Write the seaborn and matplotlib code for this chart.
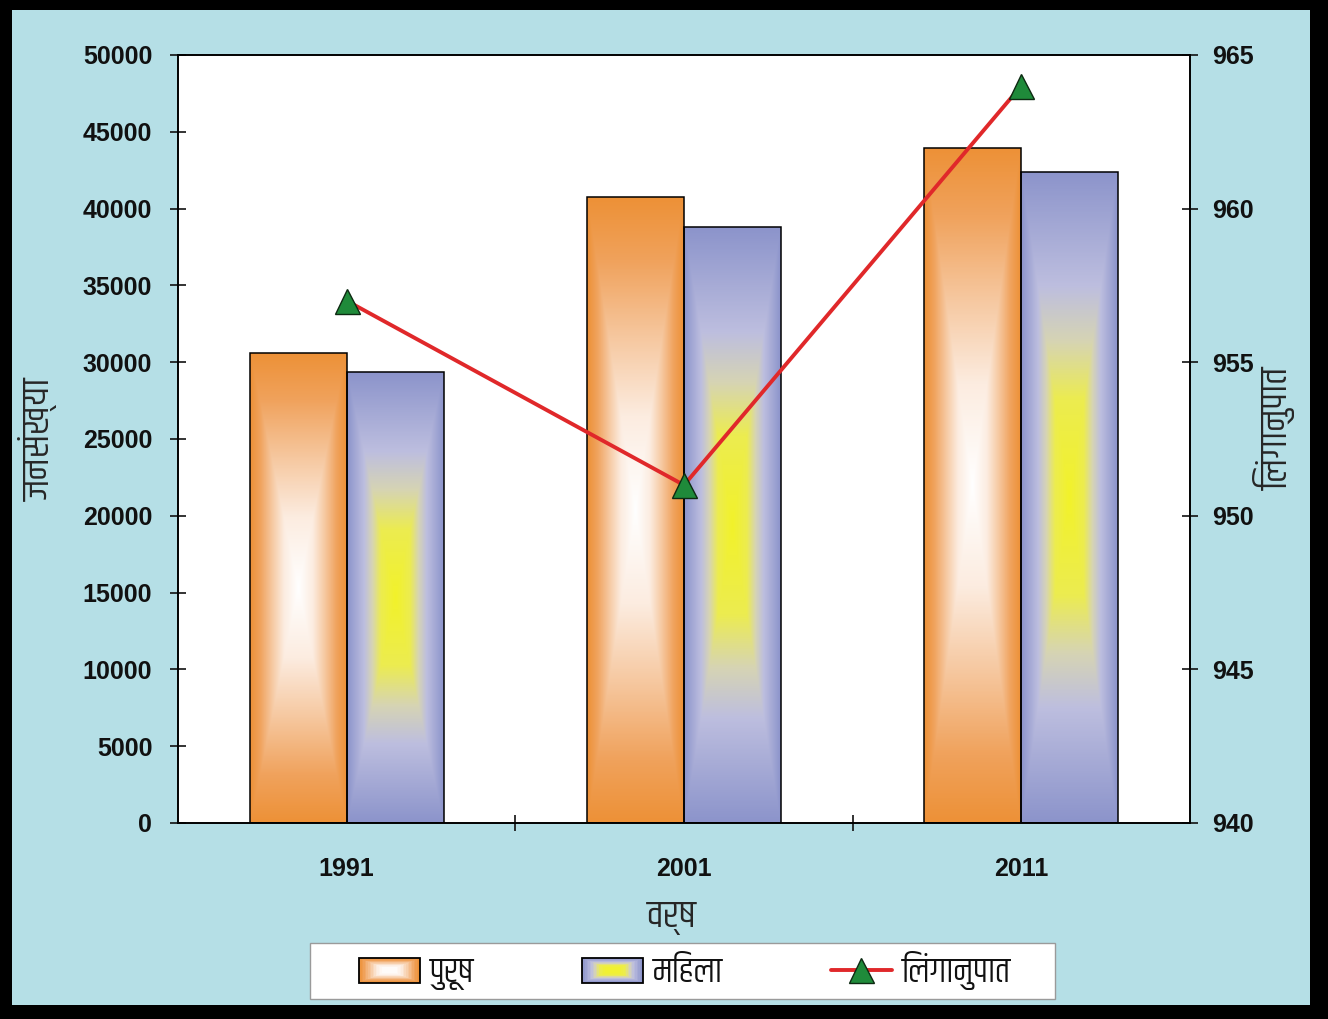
import numpy as np
import pandas as pd
import seaborn as sns
import matplotlib
matplotlib.use("Agg")
import matplotlib.pyplot as plt
from matplotlib.patches import Rectangle
from matplotlib.legend_handler import HandlerBase
from matplotlib.colors import LinearSegmentedColormap

# ---- data -------------------------------------------------------------
years = ["1991", "2001", "2011"]
male_population = [30600, 40750, 43950]
female_population = [29350, 38800, 42400]
sex_ratio = [957, 951, 964]

series_names = ["पुरूष", "महिला"]
ratio_name = "लिंगानुपात"
population_label = "जनसंख्या"
year_label = "वर्ष"

population_ticks = list(range(0, 50001, 5000))
ratio_ticks = list(range(940, 966, 5))

# ---- styling ------------------------------------------------------------
W, H = 1328, 1019
ORANGE = "#ed9137"
LAVENDER = "#8c94cb"
RED = "#e0282a"
GREEN = "#1f8a3a"
BACKDROP = "#b5dfe6"
DEVA = "Khand"

sns.set_style("ticks")
plt.rcParams["font.family"] = ["Liberation Sans", DEVA]
plt.rcParams["font.weight"] = "bold"
plt.rcParams["text.color"] = "#111111"
plt.rcParams["xtick.color"] = "#111111"
plt.rcParams["ytick.color"] = "#111111"


def glyph_order(text):
    """matplotlib lays Devanagari out without shaping, so the short-i
    vowel sign is moved in front of its consonant to display correctly."""
    chars = list(text)
    for i in range(1, len(chars)):
        if chars[i] == "\u093f":
            chars[i - 1], chars[i] = chars[i], chars[i - 1]
    return "".join(chars)


male_cmap = LinearSegmentedColormap.from_list(
    "male", [(0.0, "#ffffff"), (0.3, "#fcece0"), (0.55, "#f6c8a0"),
             (0.8, "#f0a25c"), (1.0, ORANGE)])
female_cmap = LinearSegmentedColormap.from_list(
    "female", [(0.0, "#f2f22a"), (0.3, "#ecec50"), (0.48, "#d6d4b4"),
               (0.65, "#bdbedf"), (1.0, LAVENDER)])

df = pd.DataFrame({
    "year": years * 2,
    "population": male_population + female_population,
    "sex": [series_names[0]] * len(years) + [series_names[1]] * len(years),
})

fig = plt.figure(figsize=(W / 100, H / 100), dpi=100, facecolor="black")
fig.add_artist(Rectangle((12 / W, 1 - 1005 / H), (1310 - 12) / W, (1005 - 10) / H,
                         transform=fig.transFigure, facecolor=BACKDROP,
                         edgecolor="none", zorder=-10))

ax = fig.add_axes([178 / W, 1 - 823 / H, 1012 / W, 768 / H])
ax.set_facecolor("white")

sns.barplot(data=df, x="year", y="population", hue="sex", hue_order=series_names,
            palette=[ORANGE, LAVENDER], width=0.575, gap=0, saturation=1,
            errorbar=None, legend=False, edgecolor="black", linewidth=1.1, ax=ax)

# rectangular "from centre" gradient fill for every bar
u = np.linspace(-1, 1, 120)
v = np.linspace(-1, 1, 400)
U, V = np.meshgrid(u, v)
T = np.maximum(np.abs(U), np.abs(V))
for container, cmap in zip(ax.containers, [male_cmap, female_cmap]):
    for bar in container:
        x0, y0 = bar.get_xy()
        w, h = bar.get_width(), bar.get_height()
        im = ax.imshow(cmap(T), extent=[x0, x0 + w, y0, y0 + h], origin="lower",
                       aspect="auto", interpolation="bilinear", zorder=2)
        im.set_clip_path(bar)
        bar.set_facecolor("none")
        bar.set_zorder(2.5)

ax2 = ax.twinx()
sns.pointplot(x=years, y=sex_ratio, color=RED, markers="^", linestyles="-",
              errorbar=None, ax=ax2)
ratio_line = ax2.lines[0]
ratio_line.set_linewidth(2.8)
ratio_line.set_markersize(18)
ratio_line.set_markerfacecolor(GREEN)
ratio_line.set_markeredgecolor("#0d2a12")
ratio_line.set_markeredgewidth(1.0)

# axes limits and ticks
ax.set_xlim(-0.5, 2.5)
ax.set_ylim(0, 50000)
ax.set_yticks(population_ticks, labels=[str(t) for t in population_ticks])
ax.tick_params(axis="y", direction="inout", length=11, width=1.2, pad=13, labelsize=18)
ax.set_xticks(range(len(years)), labels=years)
ax.tick_params(axis="x", which="major", length=0, pad=24.5, labelsize=18)
ax.set_xticks([0.5, 1.5], minor=True)
ax.tick_params(axis="x", which="minor", direction="inout", length=11, width=1.2)

ax2.set_ylim(940, 965)
ax2.set_yticks(ratio_ticks, labels=[str(t) for t in ratio_ticks])
ax2.tick_params(axis="y", direction="inout", length=11, width=1.2, pad=10.5, labelsize=18)

for a in (ax, ax2):
    for s in a.spines.values():
        s.set_visible(True)
        s.set_color("black")
        s.set_linewidth(1.2)

# axis titles
ax.set_ylabel(glyph_order(population_label), family=DEVA, weight="normal",
              size=28, va="center", rotation=90)
ax.yaxis.set_label_coords(-0.1383, 0.5)
ax2.set_ylabel(glyph_order(ratio_name), family=DEVA, weight="normal",
               size=28, va="center", rotation=90)
ax2.yaxis.set_label_coords(1.084, 0.514)
ax.set_xlabel(glyph_order(year_label), family=DEVA, weight="normal", size=28, va="center")
ax.xaxis.set_label_coords(0.488, -0.123)


class GradientSwatch(HandlerBase):
    def __init__(self, cmap, steps=16):
        super().__init__()
        self.cmap = cmap
        self.steps = steps

    def create_artists(self, legend, orig_handle, xdescent, ydescent,
                       width, height, fontsize, trans):
        x0, y0 = -xdescent, -ydescent
        arts = []
        for k in range(self.steps):
            f = k / self.steps
            dx = 0.5 * width * f * 0.8
            dy = 0.5 * height * f * 0.8
            arts.append(Rectangle((x0 + dx, y0 + dy), width - 2 * dx, height - 2 * dy,
                                  facecolor=self.cmap(1 - f), edgecolor="none",
                                  transform=trans))
        arts.append(Rectangle((x0, y0), width, height, facecolor="none",
                              edgecolor="black", linewidth=1.3, transform=trans))
        return arts


# legend box
fig.add_artist(Rectangle((310 / W, 1 - 999 / H), 745 / W, 56 / H,
                         transform=fig.transFigure, facecolor="white",
                         edgecolor="#9a9a9a", linewidth=1.0, zorder=5))
handles = [ax.containers[0], ax.containers[1], ratio_line]
labels = [glyph_order(s) for s in series_names + [ratio_name]]
leg = fig.legend(handles, labels,
                 handler_map={ax.containers[0]: GradientSwatch(male_cmap),
                              ax.containers[1]: GradientSwatch(female_cmap)},
                 loc="center", bbox_to_anchor=(685 / W, 1 - 971 / H),
                 bbox_transform=fig.transFigure, ncol=3, frameon=False,
                 prop={"family": DEVA, "size": 25, "weight": "normal"},
                 handlelength=1.75, handleheight=0.7, handletextpad=0.3,
                 columnspacing=3.1)
leg.set_zorder(6)

fig.savefig("out.png", dpi=100, facecolor=fig.get_facecolor())
